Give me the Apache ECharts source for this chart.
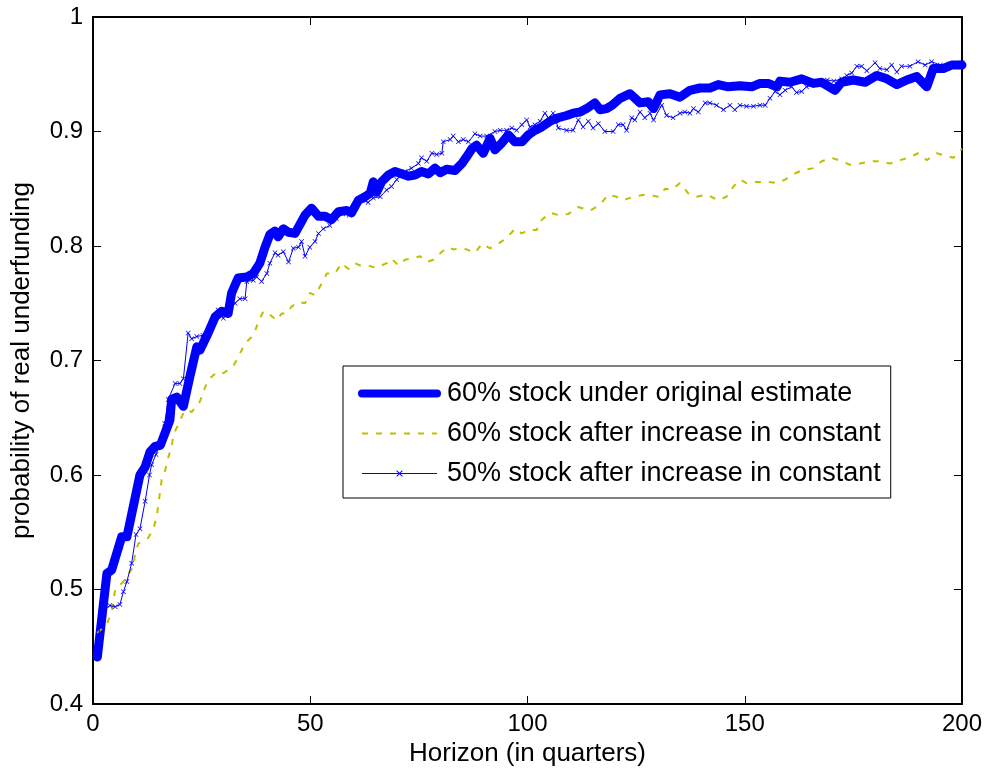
<!DOCTYPE html>
<html>
<head>
<meta charset="utf-8">
<title>probability of real underfunding</title>
<script src="https://cdn.jsdelivr.net/npm/echarts@6/dist/echarts.min.js"></script>
<style>
  html, body { margin: 0; padding: 0; background: #fff; }
  #main { width: 988px; height: 773px; }
</style>
</head>
<body>
<div id="main"></div>
<script>
// 60% stock under original estimate (thick line)
const horizonOrig = [1, 3.2, 4.3, 6.6, 7.8, 10.8, 12, 13.1, 14.3, 15.5, 17.7, 18.1, 19.3, 20.8, 22.3, 23.9, 24.6, 26.5, 28.1, 29.6,
  31.1, 31.9, 33.4, 35.4, 36.9, 38.4, 39.6, 40.7, 41.9, 42.6, 43.8, 45, 46.5, 48.8, 50.3, 51.9, 53.4, 54.9, 56.5, 58.4,
  59.5, 61.1, 62.6, 63.8, 64.5, 65.3, 66.4, 68, 69.5, 71, 72.6, 74.1, 75.6, 77.2, 78.7, 79.9, 81.4, 83.3, 84.9, 86,
  87.2, 88.3, 89.8, 91.4, 92.5, 94.1, 95.6, 97.1, 98.7, 100.2, 101.7, 103.3, 105.2, 107.1, 109, 110.5, 112.1, 113.6, 115.5, 116.7,
  118.2, 119.5, 121.3, 123.6, 125.9, 127.8, 129, 130.5, 132.8, 135.1, 137.4, 139.7, 142, 143.9, 146.2, 148.9, 151.6, 153.5, 155.4, 157.4,
  158.1, 160.4, 163.1, 165.8, 167.7, 170.8, 172.3, 175, 177.7, 180.4, 182.7, 185, 187.3, 189.6, 191.9, 193.4, 195.7, 197.6, 200];
const probOrig = [0.441, 0.514, 0.517, 0.546, 0.546, 0.600, 0.607, 0.620, 0.625, 0.626, 0.648, 0.666, 0.668, 0.660, 0.686, 0.712, 0.709, 0.724, 0.738, 0.743,
  0.741, 0.759, 0.772, 0.773, 0.776, 0.785, 0.799, 0.810, 0.813, 0.808, 0.815, 0.812, 0.811, 0.827, 0.833, 0.826, 0.826, 0.823, 0.830, 0.831,
  0.829, 0.840, 0.843, 0.846, 0.856, 0.847, 0.856, 0.862, 0.865, 0.863, 0.861, 0.862, 0.865, 0.863, 0.868, 0.864, 0.867, 0.866, 0.872, 0.878,
  0.885, 0.888, 0.881, 0.894, 0.884, 0.890, 0.897, 0.891, 0.891, 0.897, 0.901, 0.904, 0.909, 0.912, 0.914, 0.916, 0.917, 0.920, 0.925, 0.919,
  0.920, 0.923, 0.929, 0.933, 0.925, 0.926, 0.920, 0.932, 0.933, 0.930, 0.936, 0.938, 0.938, 0.941, 0.939, 0.940, 0.939, 0.942, 0.942, 0.939,
  0.944, 0.943, 0.946, 0.942, 0.943, 0.936, 0.943, 0.945, 0.943, 0.949, 0.946, 0.941, 0.945, 0.948, 0.939, 0.955, 0.955, 0.958, 0.958];

// 60% stock after increase in constant (yellow dashed)
const horizonHi60 = [1, 3.2, 4.3, 4.7, 5.1, 7, 9.3, 9.7, 10.4, 12.7, 13.9, 14.7, 15, 15.4, 15.8, 16.6, 17.3, 18.1, 18.5, 19.6,
  20.8, 21.6, 22.7, 24.6, 25.4, 26.5, 28.5, 30, 32.3, 33.8, 35, 36.9, 38, 39.2, 40.7, 42.3, 43.4, 44.6, 45.7, 47.3,
  48.8, 49.9, 51.1, 52.6, 53.8, 55.7, 57.2, 58.8, 60.3, 61.5, 63.4, 64.9, 66.4, 67.6, 68.7, 70.3, 71.8, 73.3, 75.3, 76.8,
  78.3, 80.3, 81.8, 82.9, 84.5, 86, 87.9, 89.5, 91.4, 93.3, 95.2, 97.1, 98.7, 100.2, 102.1, 103.3, 105.2, 107.1, 109.4, 111.7,
  114.4, 116.7, 118.6, 120.5, 122, 124.4, 127.4, 130.1, 131.7, 133.2, 135.1, 137, 138.9, 141.2, 143.9, 145.8, 147.4, 148.9, 150.4, 152.7,
  155.4, 157.4, 159.3, 160.8, 163.1, 165.8, 167.7, 170, 172.3, 174.2, 176.5, 178.8, 181.1, 183.4, 185.7, 187.6, 189.9, 191.9, 194.2, 196.1,
  198, 200];
const probHi60 = [0.462, 0.470, 0.481, 0.489, 0.500, 0.507, 0.520, 0.532, 0.540, 0.545, 0.553, 0.564, 0.574, 0.584, 0.596, 0.604, 0.615, 0.625, 0.635, 0.644,
  0.654, 0.657, 0.655, 0.664, 0.673, 0.683, 0.690, 0.689, 0.695, 0.706, 0.715, 0.722, 0.733, 0.743, 0.740, 0.735, 0.741, 0.741, 0.747, 0.751,
  0.750, 0.759, 0.757, 0.767, 0.776, 0.776, 0.785, 0.780, 0.785, 0.783, 0.783, 0.781, 0.783, 0.785, 0.789, 0.783, 0.788, 0.789, 0.791, 0.786,
  0.788, 0.795, 0.799, 0.797, 0.798, 0.797, 0.794, 0.802, 0.798, 0.802, 0.807, 0.815, 0.811, 0.814, 0.814, 0.823, 0.829, 0.827, 0.828, 0.834,
  0.831, 0.836, 0.845, 0.843, 0.840, 0.843, 0.845, 0.843, 0.850, 0.849, 0.855, 0.846, 0.843, 0.845, 0.840, 0.843, 0.852, 0.858, 0.855, 0.856,
  0.856, 0.855, 0.858, 0.862, 0.866, 0.868, 0.874, 0.877, 0.874, 0.871, 0.872, 0.874, 0.874, 0.872, 0.875, 0.877, 0.881, 0.875, 0.881, 0.879,
  0.877, 0.885];

// 50% stock after increase in constant (thin line with x markers)
const horizonHi50 = [1, 2.4, 3.9, 5.1, 6.2, 7, 7.8, 8.9, 9.9, 10.8, 12, 13, 13.5, 14.5, 15.5, 16.5, 17.3, 18.9, 20, 20.8,
  21.9, 22.7, 23.9, 25.3, 26.8, 28.8, 30, 31.2, 32.7, 33.8, 35, 35.4, 36.9, 37.7, 38.8, 40, 40.7, 41.9, 42.6, 43.8,
  45, 46.1, 47.3, 48, 48.8, 49.9, 51.1, 51.9, 53, 54.5, 56, 57.5, 59, 60.5, 62, 63.3, 64.5, 66.1, 67.6, 68.7,
  69.9, 71.8, 73.3, 74.9, 75.6, 76.8, 78, 79.1, 80.3, 80.6, 82.2, 82.9, 84.1, 85.2, 86.4, 87.9, 89.1, 90.6, 92.5, 93.7,
  95.2, 96.4, 97.5, 98.7, 99.8, 100.6, 101.7, 102.9, 104, 104.8, 105.9, 107.1, 109, 110.5, 111.7, 112.8, 114, 115.1, 116.3, 117.8,
  119.7, 120.9, 122, 122.8, 124, 124.7, 125.9, 127, 128.2, 129, 130.9, 132, 133.5, 135.1, 136.2, 137.4, 138.2, 139.3, 140.9, 142,
  143.5, 145.1, 146.6, 147.7, 148.9, 150.4, 152, 153.5, 154.7, 155.8, 157, 158.1, 159.3, 160.8, 161.9, 163.1, 164.2, 165.8, 167.5, 169,
  170.5, 172.3, 173.5, 174.6, 175.8, 176.9, 178.1, 180, 181.1, 182.7, 183.8, 185, 186.1, 188, 189.9, 191.5, 193, 195, 197, 200];
const probHi50 = [0.455, 0.482, 0.486, 0.485, 0.487, 0.498, 0.507, 0.523, 0.548, 0.553, 0.577, 0.600, 0.609, 0.618, 0.628, 0.645, 0.666, 0.680, 0.680, 0.684,
  0.724, 0.719, 0.721, 0.722, 0.728, 0.744, 0.737, 0.743, 0.750, 0.754, 0.754, 0.769, 0.770, 0.773, 0.769, 0.776, 0.785, 0.794, 0.792, 0.795,
  0.786, 0.798, 0.799, 0.804, 0.791, 0.799, 0.804, 0.811, 0.815, 0.818, 0.824, 0.828, 0.827, 0.834, 0.840, 0.838, 0.842, 0.843, 0.849, 0.852,
  0.858, 0.865, 0.868, 0.872, 0.877, 0.874, 0.881, 0.880, 0.881, 0.891, 0.893, 0.896, 0.891, 0.893, 0.891, 0.898, 0.896, 0.896, 0.900, 0.901,
  0.901, 0.903, 0.901, 0.906, 0.910, 0.904, 0.906, 0.909, 0.916, 0.912, 0.916, 0.903, 0.901, 0.901, 0.910, 0.904, 0.909, 0.903, 0.907, 0.900,
  0.900, 0.906, 0.906, 0.901, 0.912, 0.910, 0.917, 0.912, 0.916, 0.910, 0.923, 0.914, 0.912, 0.916, 0.917, 0.916, 0.920, 0.917, 0.925, 0.925,
  0.923, 0.919, 0.923, 0.919, 0.923, 0.922, 0.922, 0.923, 0.923, 0.929, 0.935, 0.932, 0.936, 0.939, 0.934, 0.935, 0.939, 0.941, 0.943, 0.945,
  0.944, 0.946, 0.949, 0.951, 0.957, 0.957, 0.953, 0.960, 0.955, 0.954, 0.958, 0.952, 0.957, 0.957, 0.961, 0.958, 0.961, 0.958, 0.959, 0.960];

const seriesNames = [
  '60% stock under original estimate',
  '60% stock after increase in constant',
  '50% stock after increase in constant',
];
const xTicks = [0, 50, 100, 150, 200];
const yTicks = [0.4, 0.5, 0.6, 0.7, 0.8, 0.9, 1];

const FONT = '"Liberation Sans", Arial, Helvetica, sans-serif';
// x-shaped marker like matlab's 'x'
const CROSS = 'path://M0,1L1,0L5,4L9,0L10,1L6,5L10,9L9,10L5,6L1,10L0,9L4,5Z';

function zip(xs, ys) {
  return xs.map((x, i) => [x, ys[i]]);
}

const myChart = echarts.init(document.getElementById('main'), null, { renderer: 'canvas' });

const frameLine = { show: true, onZero: false, lineStyle: { color: '#000', width: 2 } };
const inTick = { show: true, inside: true, length: 8, lineStyle: { color: '#000', width: 1 } };

myChart.setOption({
  animation: false,
  backgroundColor: '#fff',
  textStyle: { fontFamily: FONT },
  grid: { left: 93, right: 26, top: 17, bottom: 69, containLabel: false },
  legend: {
    orient: 'vertical',
    left: 343,
    top: 366,
    padding: [14, 10, 11, 15],
    itemGap: 13,
    itemWidth: 75,
    itemHeight: 8,
    backgroundColor: '#fff',
    borderColor: '#000',
    borderWidth: 1,
    borderRadius: 0,
    selectedMode: false,
    textStyle: { fontSize: 27, color: '#000', fontFamily: FONT, padding: [0, 0, 0, 5] },
    data: [
      // no marker for the first two entries
      { name: seriesNames[0], lineStyle: { width: 8 }, itemStyle: { opacity: 0 } },
      { name: seriesNames[1], lineStyle: { width: 2 }, itemStyle: { opacity: 0 } },
      { name: seriesNames[2], lineStyle: { width: 1 } },
    ],
  },
  xAxis: [
    {
      type: 'value',
      min: xTicks[0],
      max: xTicks[xTicks.length - 1],
      interval: 50,
      name: 'Horizon (in quarters)',
      nameLocation: 'middle',
      nameGap: 36,
      nameTextStyle: { fontSize: 26, color: '#000', fontFamily: FONT },
      axisLine: frameLine,
      axisTick: inTick,
      axisLabel: { fontSize: 24, color: '#000', margin: 8, fontFamily: FONT },
      splitLine: { show: false },
    },
    {
      type: 'value',
      position: 'top',
      min: xTicks[0],
      max: xTicks[xTicks.length - 1],
      interval: 50,
      axisLine: frameLine,
      axisTick: inTick,
      axisLabel: { show: false },
      splitLine: { show: false },
    },
  ],
  yAxis: [
    {
      type: 'value',
      min: yTicks[0],
      max: yTicks[yTicks.length - 1],
      interval: 0.1,
      name: 'probability of real underfunding',
      nameLocation: 'middle',
      nameGap: 58,
      nameTextStyle: { fontSize: 26, color: '#000', fontFamily: FONT },
      axisLine: frameLine,
      axisTick: inTick,
      axisLabel: {
        fontSize: 24,
        color: '#000',
        margin: 10,
        fontFamily: FONT,
        formatter: (v) => String(Math.round(v * 10) / 10),
      },
      splitLine: { show: false },
    },
    {
      type: 'value',
      position: 'right',
      min: yTicks[0],
      max: yTicks[yTicks.length - 1],
      interval: 0.1,
      axisLine: frameLine,
      axisTick: inTick,
      axisLabel: { show: false },
      splitLine: { show: false },
    },
  ],
  series: [
    {
      name: seriesNames[0],
      type: 'line',
      xAxisIndex: 0,
      yAxisIndex: 0,
      data: zip(horizonOrig, probOrig),
      symbol: 'none',
      color: '#0000ff',
      lineStyle: { width: 9, color: '#0000ff', join: 'round', cap: 'round' },
    },
    {
      name: seriesNames[1],
      type: 'line',
      xAxisIndex: 0,
      yAxisIndex: 0,
      data: zip(horizonHi60, probHi60),
      symbol: 'none',
      color: '#bfbf00',
      lineStyle: { width: 2, color: '#bfbf00', type: [6, 8] },
    },
    {
      name: seriesNames[2],
      type: 'line',
      xAxisIndex: 0,
      yAxisIndex: 0,
      data: zip(horizonHi50, probHi50),
      symbol: CROSS,
      symbolSize: 5,
      showSymbol: true,
      showAllSymbol: true,
      color: '#0000ff',
      itemStyle: { color: '#0000ff' },
      lineStyle: { width: 1, color: '#0000ff' },
    },
  ],
});
</script>
</body>
</html>
